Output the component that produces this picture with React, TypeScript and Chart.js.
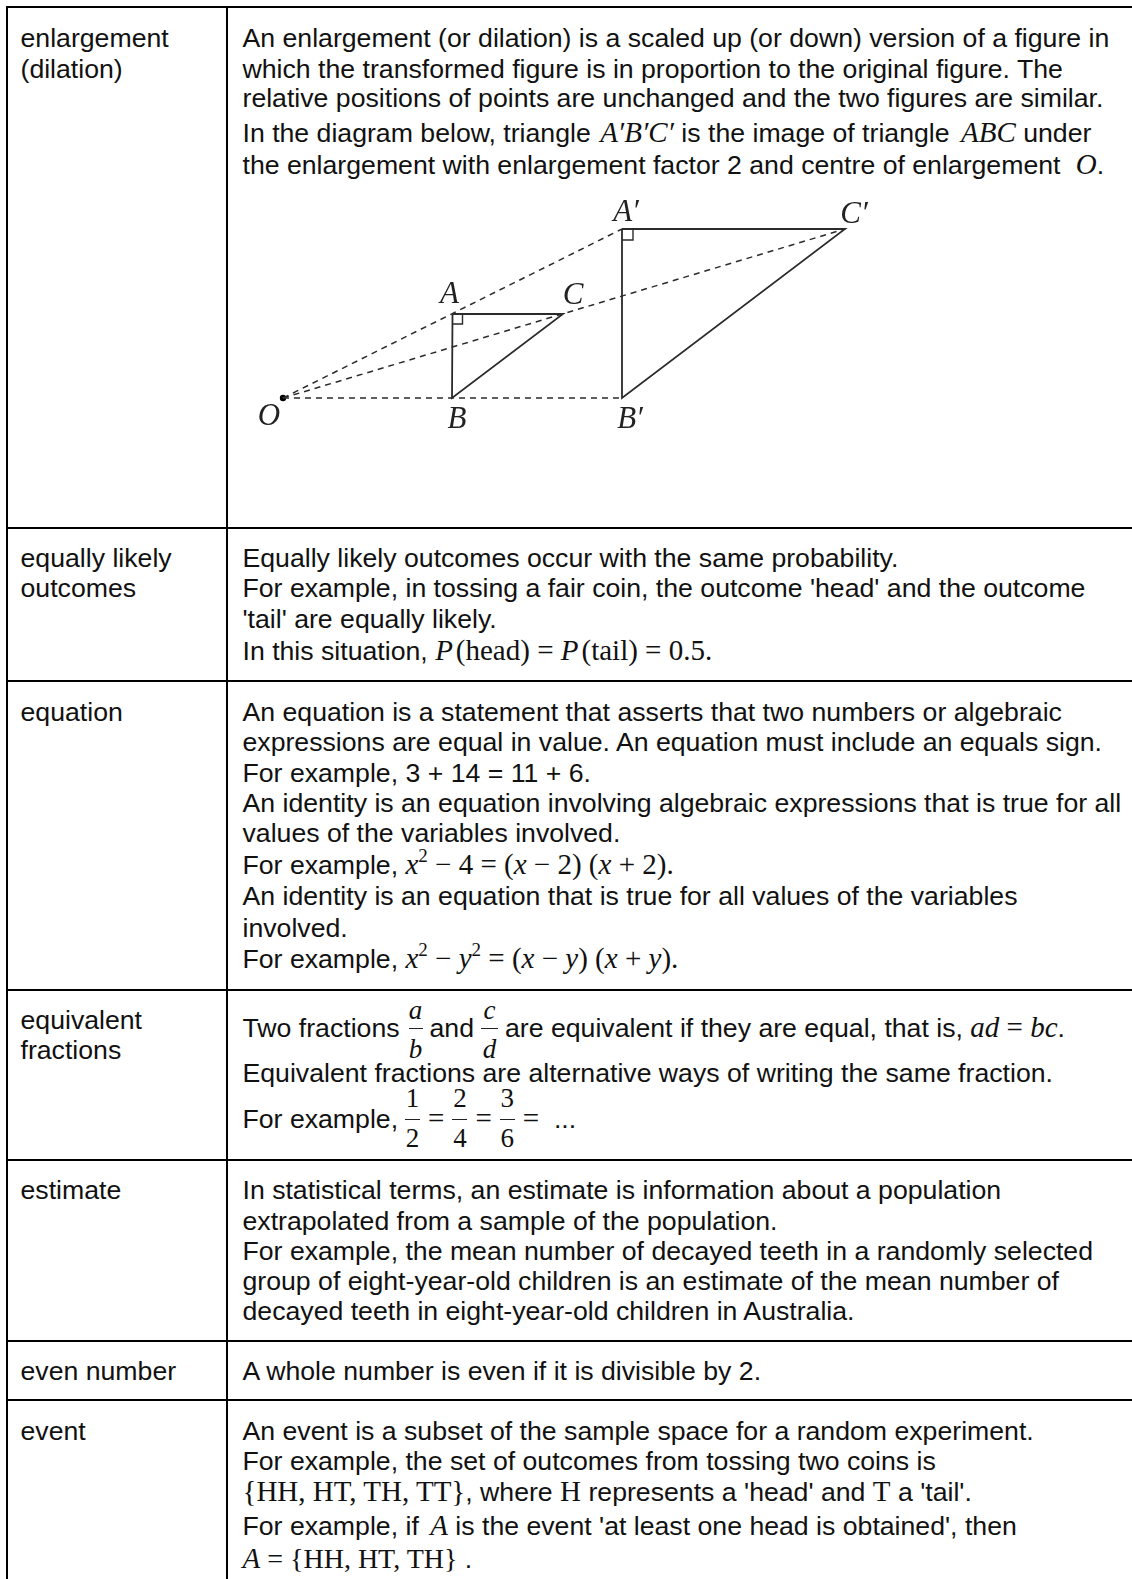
import React, { useEffect, useRef } from "react";
import { Chart, registerables } from "chart.js";

Chart.register(...registerables);

// Diagram values, measured from O in picture units
const pointO = { x: 0, y: 0 };
const pointA = { x: 169.5, y: 84 };
const pointB = { x: 169, y: 0 };
const pointC = { x: 280, y: 84 };
const pointA2 = { x: 339, y: 169 };
const pointB2 = { x: 339, y: 0 };
const pointC2 = { x: 562, y: 169 };
const smallTriangle = [pointA, pointB, pointC, pointA];
const largeTriangle = [pointA2, pointB2, pointC2, pointA2];
const rayToA = [pointO, pointA2];
const rayToB = [pointO, pointB2];
const rayToC = [pointO, pointC2];
const smallRightAngle = [{ x: 169.5, y: 74 }, { x: 179.5, y: 74 }, { x: 179.5, y: 84 }];
const largeRightAngle = [{ x: 339, y: 158 }, { x: 350, y: 158 }, { x: 350, y: 169 }];
const origin = [pointO];
const pointLabels = [
  { t: "A", p: pointA, dx: -3, dy: 19 },
  { t: "B", p: pointB, dx: 5, dy: -22 },
  { t: "C", p: pointC, dx: 10, dy: 18 },
  { t: "O", p: pointO, dx: -14, dy: -19 },
  { t: "A′", p: pointA2, dx: 4, dy: 16.5 },
  { t: "B′", p: pointB2, dx: 8, dy: -22 },
  { t: "C′", p: pointC2, dx: 9, dy: 14.5 },
];

const rowLines = [7, 527.5, 681, 990, 1160, 1341, 1400];

const F = "'Liberation Sans', Arial, sans-serif";
const S = "'Liberation Serif', 'Times New Roman', serif";

const I = ({ children, g = 0, s = 29 }: any) => (
  <span style={{ fontFamily: S, fontStyle: "italic", fontSize: s, marginLeft: g }}>{children}</span>
);
const R = ({ children, g = 0, s = 29 }: any) => (
  <span style={{ fontFamily: S, fontSize: s, marginLeft: g }}>{children}</span>
);
const Sq = () => (
  <span style={{ fontFamily: S, fontSize: 19, position: "relative", top: -12, lineHeight: 0 }}>2</span>
);
const Frac = ({ n, d, it = false, w = 15, gl = 8, gr = 8, nb = 15, dt = -5 }: any) => (
  <span style={{ display: "inline-block", position: "relative", width: w, height: 0, marginLeft: gl, marginRight: gr }}>
    <span style={{ position: "absolute", left: -6, width: w + 12, bottom: nb + 5, textAlign: "center", fontFamily: S, fontStyle: it ? "italic" : "normal", fontSize: 27, lineHeight: "20px" }}>{n}</span>
    <span style={{ position: "absolute", left: 0, width: w, bottom: 8, height: 1, background: "#222" }} />
    <span style={{ position: "absolute", left: -6, width: w + 12, top: dt + 5, textAlign: "center", fontFamily: S, fontStyle: it ? "italic" : "normal", fontSize: 27, lineHeight: "20px" }}>{d}</span>
  </span>
);

const termLines: [number, string][] = [
  [38, "enlargement"], [69, "(dilation)"],
  [558, "equally likely"], [588, "outcomes"],
  [711.7, "equation"],
  [1020, "equivalent"], [1050, "fractions"],
  [1190, "estimate"],
  [1371, "even number"],
  [1431, "event"],
];

const bodyLines: [number, any][] = [
  [38, "An enlargement (or dilation) is a scaled up (or down) version of a figure in"],
  [69, "which the transformed figure is in proportion to the original figure. The"],
  [98, "relative positions of points are unchanged and the two figures are similar."],
  [132, <>In the diagram below, triangle <I g={2}>A′B′C′</I> is the image of triangle <I g={4}>ABC</I> under</>],
  [164, <>the enlargement with enlargement factor 2 and centre of enlargement <I g={8}>O</I>.</>],
  [558, "Equally likely outcomes occur with the same probability."],
  [588, "For example, in tossing a fair coin, the outcome 'head' and the outcome"],
  [619, "'tail' are equally likely."],
  [650, <>In this situation, <I>P</I><R g={3}>(head) = </R><I>P</I><R g={3}>(tail) = 0.5.</R></>],
  [711.7, "An equation is a statement that asserts that two numbers or algebraic"],
  [742, "expressions are equal in value. An equation must include an equals sign."],
  [772.7, "For example, 3 + 14 = 11 + 6."],
  [802.7, "An identity is an equation involving algebraic expressions that is true for all"],
  [833.3, "values of the variables involved."],
  [864.3, <>For example, <I>x</I><Sq /><R> − 4 = (</R><I>x</I><R> − 2) (</R><I>x</I><R> + 2).</R></>],
  [896, "An identity is an equation that is true for all values of the variables"],
  [928.3, "involved."],
  [957.7, <>For example, <I>x</I><Sq /><R> − </R><I>y</I><Sq /><R> = (</R><I>x</I><R> − </R><I>y</I><R>) (</R><I>x</I><R> + </R><I>y</I><R>).</R></>],
  [1026.7, <>Two fractions<Frac n="a" d="b" it w={14} gl={9} gr={7} nb={12} dt={-3} />and<Frac n="c" d="d" it w={17} gl={7} gr={7} nb={12} dt={-3} />are equivalent if they are equal, that is, <I>ad</I><R> = </R><I>bc</I>.</>],
  [1072.7, "Equivalent fractions are alternative ways of writing the same fraction."],
  [1117.7, <>For example,<Frac n="1" d="2" gl={7} /><R>=</R><Frac n="2" d="4" /><R>=</R><Frac n="3" d="6" /><R>=</R>&nbsp; ...</>],
  [1190, "In statistical terms, an estimate is information about a population"],
  [1221, "extrapolated from a sample of the population."],
  [1251, "For example, the mean number of decayed teeth in a randomly selected"],
  [1281, "group of eight-year-old children is an estimate of the mean number of"],
  [1311, "decayed teeth in eight-year-old children in Australia."],
  [1371, "A whole number is even if it is divisible by 2."],
  [1431, "An event is a subset of the sample space for a random experiment."],
  [1461, "For example, the set of outcomes from tossing two coins is"],
  [1491, <><R>{"{HH, HT, TH, TT}"}</R>, where <R>H</R> represents a 'head' and <R>T</R> a 'tail'.</>],
  [1525, <>For example, if <I g={4}>A</I> is the event 'at least one head is obtained', then</>],
  [1558, <><I>A</I><R s={28}>{" = {HH, HT, TH}"}</R> .</>],
];

const ink = "#2b2b2b";

export default function App() {
  const ref = useRef<HTMLCanvasElement>(null);
  useEffect(() => {
    const solid = (data: any[], w = 1.8) => ({
      data, borderColor: ink, borderWidth: w, pointRadius: 0, showLine: true, tension: 0, fill: false,
    });
    const dashed = (data: any[]) => ({
      data, borderColor: ink, borderWidth: 1.5, borderDash: [6, 5], pointRadius: 0, showLine: true, tension: 0, fill: false,
    });
    const labelPlugin = {
      id: "pointNames",
      afterDatasetsDraw(chart: any) {
        const { ctx, scales } = chart;
        ctx.save();
        ctx.font = "italic 31px 'Liberation Serif'";
        ctx.fillStyle = "#222";
        ctx.textAlign = "center";
        ctx.textBaseline = "middle";
        pointLabels.forEach((l) => {
          ctx.fillText(l.t, scales.x.getPixelForValue(l.p.x + l.dx), scales.y.getPixelForValue(l.p.y + l.dy));
        });
        ctx.restore();
      },
    };
    const chart = new Chart(ref.current!, {
      type: "scatter",
      data: {
        datasets: [
          solid(smallTriangle),
          solid(largeTriangle),
          dashed(rayToA),
          dashed(rayToB),
          dashed(rayToC),
          solid(smallRightAngle, 1.4),
          solid(largeRightAngle, 1.4),
          { data: origin, pointRadius: 3.2, pointBackgroundColor: "#000", pointBorderWidth: 0, showLine: false },
        ],
      } as any,
      options: {
        animation: false,
        responsive: false,
        maintainAspectRatio: false,
        layout: { padding: 0, autoPadding: false },
        plugins: { legend: { display: false }, tooltip: { enabled: false } },
        scales: {
          x: { type: "linear", display: false, min: -43, max: 607 },
          y: { type: "linear", display: false, min: -40, max: 208 },
        },
      },
      plugins: [labelPlugin],
    });
    return () => chart.destroy();
  }, []);

  const hLine = (y: number, i: number) => (
    <div key={i} style={{ position: "absolute", left: 6, right: 0, top: y - 1, height: 2, background: "#000" }} />
  );
  const text = (y: number, x: number, c: any, i: number) => (
    <div key={i} style={{ position: "absolute", left: x, top: y - 15, height: 30, lineHeight: "30px", whiteSpace: "pre", color: "#111" }}>{c}</div>
  );
  return (
    <div style={{ position: "absolute", left: 0, top: 0, width: 1132, height: 1579, overflow: "hidden", background: "#fff", fontFamily: F, fontSize: 26.67 }}>
      {rowLines.map(hLine)}
      <div style={{ position: "absolute", left: 6, top: 6, bottom: 0, width: 2, background: "#000" }} />
      <div style={{ position: "absolute", left: 226, top: 6, bottom: 0, width: 2, background: "#000" }} />
      {termLines.map(([y, t], i) => text(y, 20.5, t, i))}
      {bodyLines.map(([y, c], i) => text(y, 242.5, c, i))}
      <canvas ref={ref} width={650} height={248} style={{ position: "absolute", left: 240, top: 190, width: 650, height: 248 }} />
    </div>
  );
}
